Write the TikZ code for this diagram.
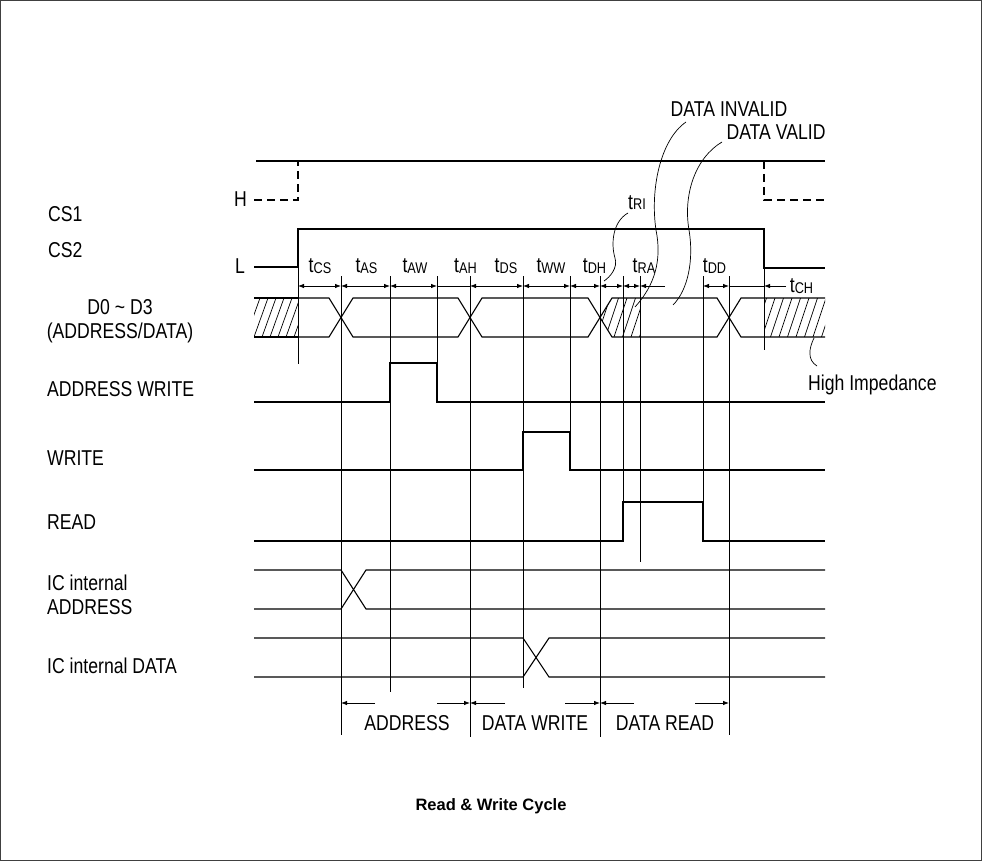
\documentclass[tikz,border=0pt]{standalone}
\usepackage{fontspec}
\setmainfont{Liberation Sans}[FakeStretch=0.82]
\newfontfamily\titlefont{Liberation Sans}
\usetikzlibrary{arrows.meta}
\newcommand\lblfont{\fontsize{21.5}{25}\selectfont}
\newcommand\tmark[1]{t{\fontsize{15.5}{16}\selectfont\raisebox{-1pt}{#1}}}
\begin{document}
\begin{tikzpicture}[x=1pt,y=-1pt,
  frame/.style={line width=1pt,black!75},
  wave/.style={line width=1.1pt,line join=miter},
  guide/.style={line width=0.8pt},
  hatchln/.style={line width=0.7pt},
  dim/.style={line width=0.8pt,{Latex[length=6pt,width=4.5pt]}-{Latex[length=6pt,width=4.5pt]}},
  ldim/.style={line width=0.8pt,-{Latex[length=6pt,width=4.5pt]}},
  callout/.style={line width=0.7pt},
  lbl/.style={font=\lblfont,inner sep=0pt,anchor=base west},
  clbl/.style={font=\lblfont,inner sep=0pt,anchor=base},
  ttl/.style={font=\titlefont\bfseries\fontsize{16.5}{20}\selectfont,inner sep=0pt,anchor=base}]
\useasboundingbox (0,0) rectangle (982,861);
\draw[frame] (0.5,0.5) rectangle (981.5,860.5);

% ---------- left labels ----------
\node[lbl] (cs1) at (48,222) {CS1};
\node[lbl] (cs2) at (48,257) {CS2};
\node[clbl] (d03) at (120,314) {D0 \textasciitilde{} D3};
\node[clbl] (adat) at (120,338) {(ADDRESS/DATA)};
\node[lbl] (aw) at (47,396) {ADDRESS WRITE};
\node[lbl] (wr) at (47,465) {WRITE};
\node[lbl] (rd) at (47,529) {READ};
\node[lbl] (ica1) at (47,590) {IC internal};
\node[lbl] (ica2) at (47,614) {ADDRESS};
\node[lbl] (icd) at (47,673) {IC internal DATA};
\node[clbl] (hl) at (240.5,207) {H};
\node[clbl] (ll) at (240,273) {L};

% ---------- CS waveform ----------
\draw[wave] (256,161) -- (825,161);
\draw[wave,dashed,dash pattern=on 8pt off 5pt] (254,200) -- (298,200) -- (298,161);
\draw[wave] (254,267) -- (298,267) -- (298,229) -- (764,229) -- (764,268) -- (825,268);
\draw[wave,dashed,dash pattern=on 8pt off 5pt] (764,161) -- (764,200) -- (825,200);

% ---------- timing guide lines ----------
\draw[guide] (298,229) -- (298,364);
\draw[guide] (341,276) -- (341,735);
\draw[guide] (390,276) -- (390,692);
\draw[guide] (437,276) -- (437,402);
\draw[guide] (470,276) -- (470,737);
\draw[guide] (523,276) -- (523,688);
\draw[guide] (570,276) -- (570,470);
\draw[guide] (600,276) -- (600,737);
\draw[guide] (623,276) -- (623,541);
\draw[guide] (640,276) -- (640,562);
\draw[guide] (703,276) -- (703,541);
\draw[guide] (729,276) -- (729,735);
\draw[guide] (764,229) -- (764,350);

% ---------- top dimension row ----------
\draw[dim] (298,286) -- (341,286);
\draw[dim] (341,286) -- (390,286);
\draw[dim] (390,286) -- (437,286);
\draw[guide] (437,286) -- (470,286);
\draw[dim] (470,286) -- (523,286);
\draw[dim] (523,286) -- (570,286);
\draw[dim] (570,286) -- (600,286);
\draw[dim] (600,286) -- (623,286);
\draw[dim] (623,286) -- (640,286);
\draw[ldim] (665,286) -- (640,286);
\draw[dim] (703,286) -- (729,286);
\draw[guide] (729,286) -- (764,286);
\draw[ldim] (786,286) -- (764,286);

\node[clbl] (tcs) at (320,272) {\tmark{CS}};
\node[clbl] (tas) at (366.5,272) {\tmark{AS}};
\node[clbl] (taw) at (415,272) {\tmark{AW}};
\node[clbl] (tah) at (465.5,272) {\tmark{AH}};
\node[clbl] (tds) at (506,272) {\tmark{DS}};
\node[clbl] (tww) at (551,272) {\tmark{WW}};
\node[clbl] (tdh) at (594.5,272) {\tmark{DH}};
\node[clbl] (tra) at (644,272) {\tmark{RA}};
\node[clbl] (tdd) at (714.5,272) {\tmark{DD}};
\node[clbl] (tch) at (801.5,292) {\tmark{CH}};
\node[clbl] (tri) at (637,209) {\tmark{RI}};

% ---------- data bus ----------
\begin{scope}
  \clip (254,298) rectangle (298,337);
  \foreach \x in {230,238,...,300} \draw[hatchln] (\x,337) -- (\x+14,298);
\end{scope}
\begin{scope}
  \clip (600,317.5) -- (612,298) -- (640,298) -- (640,337) -- (612,337) -- cycle;
  \foreach \x in {580,588.5,...,645} \draw[hatchln] (\x,337) -- (\x+13,298);
\end{scope}
\begin{scope}
  \clip (764,298) rectangle (825,337);
  \foreach \x in {745,753.5,...,830} \draw[hatchln] (\x,337) -- (\x+13,298);
\end{scope}
\draw[wave] (254,298) -- (298,298);
\draw[wave] (254,337) -- (298,337);
\draw[wave] (298,298) -- (329,298) -- (353,337) -- (458,337) -- (482,298) -- (588,298) -- (612,337) -- (717,337) -- (741,298) -- (825,298);
\draw[wave] (298,337) -- (329,337) -- (353,298) -- (458,298) -- (482,337) -- (588,337) -- (612,298) -- (717,298) -- (741,337) -- (825,337);

% ---------- control waveforms ----------
\draw[wave] (254,402) -- (390,402) -- (390,363) -- (437,363) -- (437,402) -- (825,402);
\draw[wave] (254,470) -- (523,470) -- (523,432) -- (570,432) -- (570,470) -- (825,470);
\draw[wave] (254,541) -- (623,541) -- (623,502) -- (703,502) -- (703,541) -- (825,541);

% ---------- internal buses ----------
\draw[wave] (254,570) -- (341,570) -- (366,609) -- (825,609);
\draw[wave] (254,609) -- (341,609) -- (366,570) -- (825,570);
\draw[wave] (254,638) -- (523,638) -- (549,677) -- (825,677);
\draw[wave] (254,677) -- (523,677) -- (549,638) -- (825,638);

% ---------- bottom phase row ----------
\draw[ldim] (375,703) -- (341,703);
\draw[ldim] (437,703) -- (470,703);
\draw[ldim] (505,703) -- (470,703);
\draw[ldim] (565,703) -- (600,703);
\draw[ldim] (634,703) -- (600,703);
\draw[ldim] (695,703) -- (729,703);
\node[clbl] (paddr) at (407,730) {ADDRESS};
\node[clbl] (pdw) at (535,730) {DATA WRITE};
\node[clbl] (pdr) at (665,730) {DATA READ};

% ---------- callouts ----------
\node[clbl] (dinv) at (729,117) {DATA INVALID};
\node[clbl] (dval) at (776,140) {DATA VALID};
\node[lbl] (himp) at (808,390) {High Impedance};
\draw[callout] (628,213) .. controls (612,222) and (611,245) .. (615,258) .. controls (618,268) and (610,277) .. (604,281);
\draw[callout] (686,122) .. controls (660,140) and (650,190) .. (656,230) .. controls (662,260) and (655,285) .. (635,307);
\draw[callout] (722,142) .. controls (695,158) and (683,195) .. (689,230) .. controls (694,260) and (688,290) .. (673,305);
\draw[callout] (814,338) .. controls (809,348) and (807,360) .. (817,366);

% ---------- title ----------
\node[ttl] (title) at (491,810) {Read \& Write Cycle};
\end{tikzpicture}
\end{document}
